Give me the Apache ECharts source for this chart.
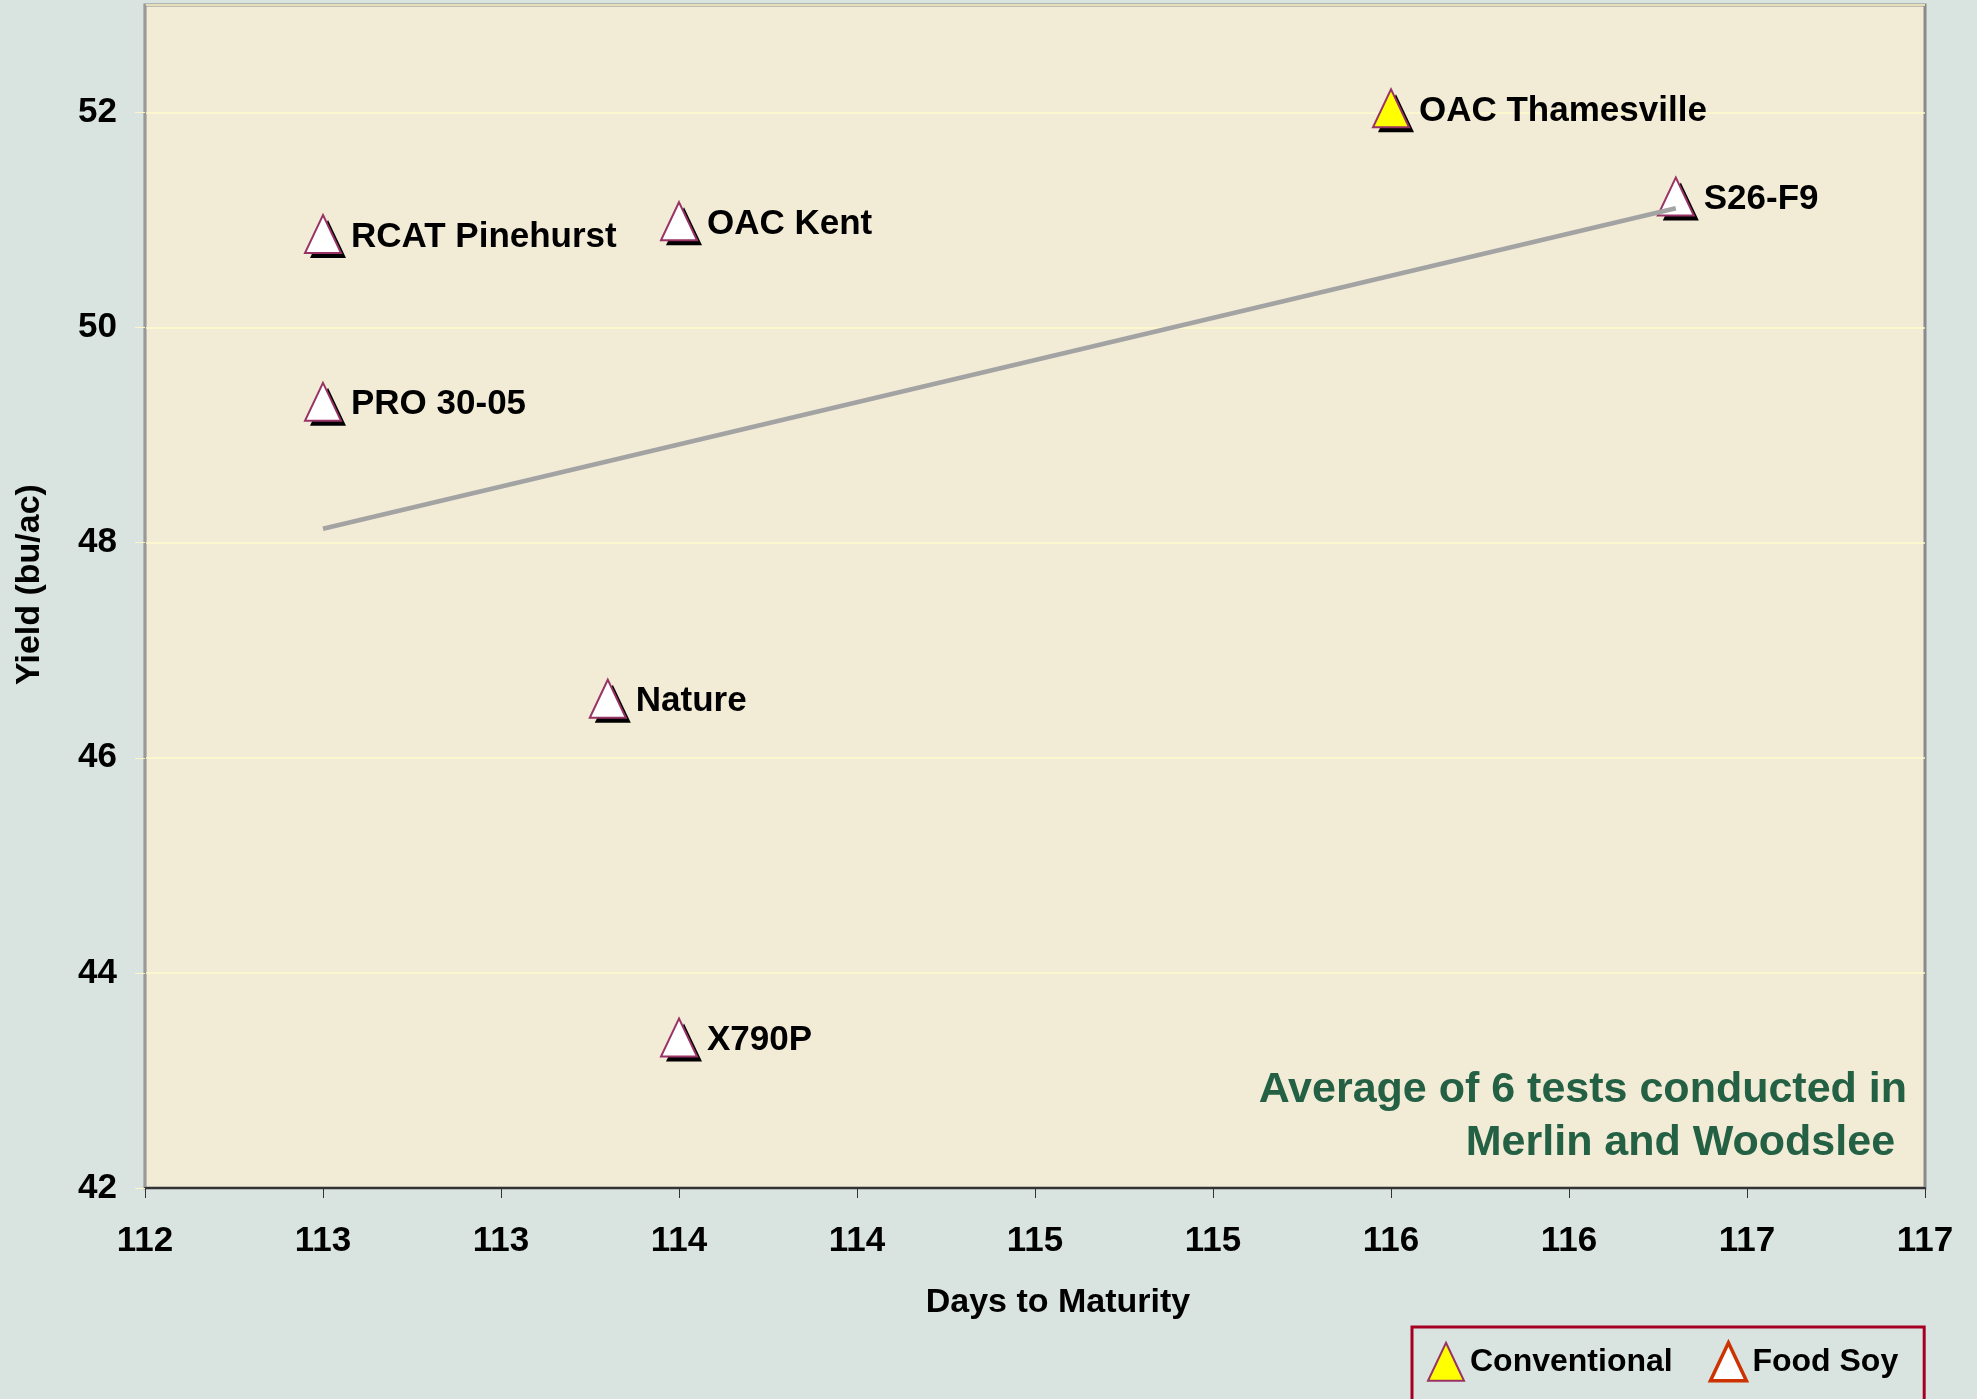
<!DOCTYPE html>
<html>
<head>
<meta charset="utf-8">
<title>Yield vs Days to Maturity</title>
<script src="https://cdn.jsdelivr.net/npm/echarts@6/dist/echarts.min.js"></script>
<style>
html, body { margin: 0; padding: 0; background: #d9e3df; }
#main { width: 1977px; height: 1399px; }
</style>
</head>
<body>
<div id="main"></div>
<script>
// values
var convNames = ['OAC Thamesville'];
var convDays = [115.5];
var convYield = [52.04];

var soyNames = ['RCAT Pinehurst', 'PRO 30-05', 'OAC Kent', 'Nature', 'X790P', 'S26-F9'];
var soyDays = [112.5, 112.5, 113.5, 113.3, 113.5, 116.3];
var soyYield = [50.87, 49.31, 50.99, 46.55, 43.40, 51.22];

// linear trend line ends
var trendDays = [112.5, 116.3];
var trendYield = [48.13, 51.11];

var noteLines = ['Average of 6 tests conducted in', 'Merlin and Woodslee '];

function points(names, xs, ys) {
    return names.map(function (n, i) {
        return { name: n, value: [xs[i], ys[i]] };
    });
}

var font = 'Liberation Sans, Arial, sans-serif';
var convData = points(convNames, convDays, convYield);
var soyData = points(soyNames, soyDays, soyYield);

var pointLabel = {
    show: true,
    position: 'right',
    distance: 9,
    offset: [0, 3],
    formatter: '{b}',
    color: '#000',
    fontSize: 35,
    fontWeight: 'bold',
    fontFamily: font
};

var myChart = echarts.init(document.getElementById('main'));
var option = {
    backgroundColor: '#d9e3df',
    animation: false,
    grid: {
        left: 145,
        right: 52,
        top: 5,
        bottom: 211,
        show: true,
        backgroundColor: '#f2ebd6',
        borderColor: '#8a8a8a',
        borderWidth: 3,
        outerBoundsMode: 'none'
    },
    xAxis: {
        type: 'value',
        min: 112,
        max: 117,
        interval: 0.5,
        name: 'Days to Maturity',
        nameLocation: 'middle',
        nameGap: 98,
        nameTextStyle: {
            color: '#000',
            fontSize: 34,
            fontWeight: 'bold',
            fontFamily: font,
            padding: [0, 0, 0, 46]
        },
        axisLine: { show: true, lineStyle: { color: '#333', width: 2 } },
        axisTick: { show: true, inside: false, length: 10, lineStyle: { color: '#333', width: 1 } },
        axisLabel: {
            color: '#000',
            fontSize: 35,
            fontWeight: 'bold',
            fontFamily: font,
            margin: 36,
            formatter: function (v) { return Math.round(v); }
        },
        splitLine: { show: false }
    },
    yAxis: {
        type: 'value',
        min: 42,
        max: 53,
        interval: 2,
        name: 'Yield (bu/ac)',
        nameLocation: 'middle',
        nameGap: 98,
        nameRotate: 90,
        nameTextStyle: {
            color: '#000',
            fontSize: 34,
            fontWeight: 'bold',
            fontFamily: font,
            padding: [0, 0, 0, 24]
        },
        axisLine: { show: true, lineStyle: { color: '#999', width: 2 } },
        axisTick: { show: true, inside: false, length: 10, lineStyle: { color: '#fff6c8', width: 1 } },
        axisLabel: {
            color: '#000',
            fontSize: 35,
            fontWeight: 'bold',
            fontFamily: font,
            margin: 28,
            showMaxLabel: false
        },
        splitLine: { show: true, lineStyle: { color: '#fffbc8', width: 1.5 } }
    },
    legend: {
        data: [
            { name: 'Conventional' },
            { name: 'Food Soy', itemStyle: { color: '#fff', borderColor: '#cc3300', borderWidth: 3.5 } }
        ],
        left: 1412,
        top: 1327,
        orient: 'horizontal',
        icon: 'triangle',
        itemWidth: 36,
        itemHeight: 38,
        itemGap: 36,
        padding: [14, 26, 19, 15],
        borderColor: '#a50021',
        borderWidth: 3,
        backgroundColor: '#d9e3df',
        textStyle: { color: '#000', fontSize: 32, fontWeight: 'bold', fontFamily: font, padding: [16, 0, 0, 1] },
        selectedMode: false
    },
    graphic: [{
        type: 'text',
        x: 1907,
        y: 1117,
        silent: true,
        style: {
            text: noteLines.join('\n'),
            textAlign: 'right',
            textVerticalAlign: 'middle',
            font: 'bold 43px ' + font,
            lineHeight: 53,
            fill: '#236044'
        }
    }],
    series: [
        {
            name: 'shadowC',
            type: 'scatter',
            silent: true,
            z: 2,
            symbol: 'triangle',
            symbolSize: [36, 38],
            symbolOffset: [5, 5],
            itemStyle: { color: '#000', opacity: 1 },
            data: convData
        },
        {
            name: 'shadowF',
            type: 'scatter',
            silent: true,
            z: 2,
            symbol: 'triangle',
            symbolSize: [36, 38],
            symbolOffset: [5, 5],
            itemStyle: { color: '#000', opacity: 1 },
            data: soyData
        },
        {
            name: 'Conventional',
            type: 'scatter',
            z: 3,
            symbol: 'triangle',
            symbolSize: [36, 38],
            itemStyle: { color: '#ffff00', borderColor: '#993366', borderWidth: 2, opacity: 1 },
            label: pointLabel,
            data: convData
        },
        {
            name: 'Food Soy',
            type: 'scatter',
            z: 3,
            symbol: 'triangle',
            symbolSize: [36, 38],
            itemStyle: { color: '#ffffff', borderColor: '#993366', borderWidth: 2, opacity: 1 },
            label: pointLabel,
            data: soyData
        },
        {
            name: 'trend',
            type: 'line',
            z: 4,
            silent: true,
            symbol: 'none',
            lineStyle: { color: '#a3a3a3', width: 4.5 },
            data: trendDays.map(function (d, i) { return [d, trendYield[i]]; })
        }
    ]
};
myChart.setOption(option);
</script>
</body>
</html>
